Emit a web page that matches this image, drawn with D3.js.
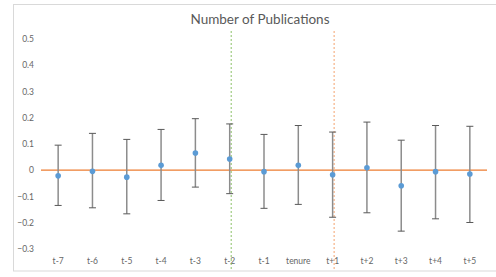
<!DOCTYPE html>
<html><head><meta charset="utf-8">
<script src="https://cdn.jsdelivr.net/npm/d3@7"></script>
<style>body{margin:0;background:#fff;}svg{display:block;}</style>
</head><body>
<svg id="c" width="496" height="277"></svg>
<script>
const categories = ["t-7","t-6","t-5","t-4","t-3","t-2","t-1","tenure","t+1","t+2","t+3","t+4","t+5"];
const estimates = [-0.022,-0.005,-0.027,0.018,0.065,0.042,-0.006,0.018,-0.018,0.009,-0.060,-0.006,-0.015];
const upper = [0.095,0.140,0.117,0.155,0.196,0.176,0.136,0.170,0.145,0.183,0.114,0.170,0.167];
const lower = [-0.135,-0.144,-0.167,-0.116,-0.065,-0.090,-0.146,-0.131,-0.180,-0.163,-0.233,-0.186,-0.200];
const yTicks = [-0.3,-0.2,-0.1,0,0.1,0.2,0.3,0.4,0.5];
const markers = [{cat:"t-2", color:"#8CC168"},{cat:"t+1", color:"#F4A26E"}];
const title = "Number of Publications";

const svg = d3.select("#c");
const font = "Lato, 'Open Sans', sans-serif";
svg.append("rect").attr("x",13.5).attr("y",4.5).attr("width",500).attr("height",266.5)
  .attr("fill","#fff").attr("stroke","#d9d9d9");

const x = d3.scaleBand().domain(categories).range([41,487]).padding(0);
const y = d3.scaleLinear().domain([-0.3,0.5]).range([248.7,39]);

svg.append("text").attr("x",260).attr("y",24).attr("text-anchor","middle")
  .attr("font-family",font).attr("font-size",13.5).attr("fill","#595959").text(title);

// y axis labels
const ya = svg.append("g").attr("transform","translate(34,0)")
  .call(d3.axisLeft(y).tickValues(yTicks).tickSize(0).tickPadding(0).tickFormat(d=>d===0?"0":d3.format(".1f")(d)));
ya.select(".domain").remove();
ya.selectAll("text").attr("font-family",font).attr("font-size",8.5).attr("fill","#666");

// x axis labels
const xa = svg.append("g").attr("transform","translate(0,255)")
  .call(d3.axisBottom(x).tickSize(0).tickPadding(3));
xa.select(".domain").remove();
xa.selectAll("text").attr("font-family",font).attr("font-size",8.5).attr("fill","#666");

// zero line
svg.append("line").attr("x1",41).attr("x2",487).attr("y1",y(0)).attr("y2",y(0))
  .attr("stroke","#ED7D31").attr("stroke-width",1.3);

// vertical dashed markers
markers.forEach(m=>{
  const cx = x(m.cat)+x.bandwidth()/2+1.5;
  svg.append("line").attr("x1",cx).attr("x2",cx).attr("y1",31).attr("y2",270)
    .attr("stroke",m.color).attr("stroke-width",1).attr("stroke-dasharray","2,2");
});

// error bars
const g = svg.append("g");
categories.forEach((c,i)=>{
  const cx = x(c)+x.bandwidth()/2;
  g.append("line").attr("x1",cx).attr("x2",cx).attr("y1",y(upper[i])).attr("y2",y(lower[i]))
    .attr("stroke","#8c8c8c").attr("stroke-width",1.5);
  [upper[i],lower[i]].forEach(v=>{
    g.append("line").attr("x1",cx-3.5).attr("x2",cx+3.5).attr("y1",y(v)).attr("y2",y(v))
      .attr("stroke","#595959").attr("stroke-width",1);
  });
  g.append("circle").attr("cx",cx).attr("cy",y(estimates[i])).attr("r",2.8).attr("fill","#5B9BD5");
});
</script>
</body></html>
